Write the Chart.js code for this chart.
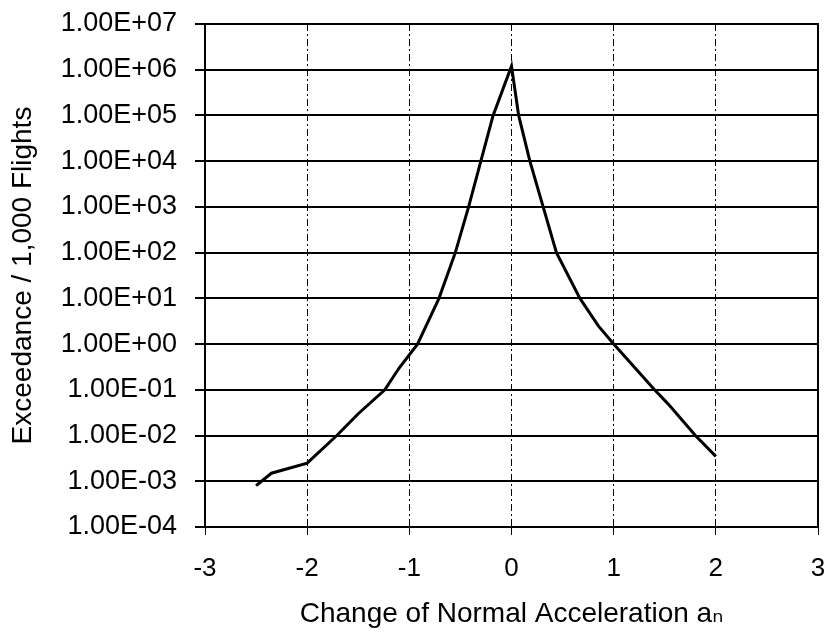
<!DOCTYPE html>
<html>
<head>
<meta charset="utf-8">
<script src="https://cdn.jsdelivr.net/npm/chart.js@4"></script>
<style>
  body { margin: 0; background: #fff; }
  canvas { display: block; }
</style>
</head>
<body>
<canvas id="chart" width="830" height="636"></canvas>
<script>
// change of normal acceleration (x) vs exceedances per 1,000 flights (y)
const accel = [-2.5, -2.35, -2.0, -1.71, -1.5, -1.24, -1.1, -0.92, -0.71, -0.55, -0.42, -0.30, -0.18, 0.0,
  0.07, 0.18, 0.31, 0.44, 0.67, 0.85, 1.0, 1.40, 1.53, 1.80, 2.0];
const exceedance = [8e-4, 1.5e-3, 2.5e-3, 1e-2, 3e-2, 1e-1, 3e-1, 1, 10, 100, 1e3, 1e4, 1e5, 1.2e6,
  1e5, 1e4, 1e3, 100, 10, 2.5, 1, 0.1, 0.05, 0.01, 3.5e-3];

const xTicks = [-3, -2, -1, 0, 1, 2, 3];
const yTicks = [1e-4, 1e-3, 1e-2, 1e-1, 1, 1e1, 1e2, 1e3, 1e4, 1e5, 1e6, 1e7];
const yTickLabels = ['1.00E-04', '1.00E-03', '1.00E-02', '1.00E-01', '1.00E+00', '1.00E+01',
  '1.00E+02', '1.00E+03', '1.00E+04', '1.00E+05', '1.00E+06', '1.00E+07'];

const FONT = '"Liberation Sans", Arial, "DejaVu Sans", sans-serif';

const points = accel.map((x, i) => ({ x, y: exceedance[i] }));

// solid right-hand frame edge of the plot
const rightEdge = {
  id: 'rightEdge',
  afterDraw(chart) {
    const { ctx, chartArea: a } = chart;
    ctx.save();
    ctx.strokeStyle = '#000';
    ctx.lineWidth = 2;
    ctx.beginPath();
    ctx.moveTo(a.right, a.top - 1);
    ctx.lineTo(a.right, a.bottom + 1);
    ctx.stroke();
    ctx.restore();
  },
};

new Chart(document.getElementById('chart'), {
  type: 'line',
  data: {
    datasets: [{
      data: points,
      borderColor: '#000',
      borderWidth: 3,
      pointRadius: 0,
      tension: 0,
      fill: false,
    }],
  },
  options: {
    responsive: false,
    animation: false,
    layout: { padding: { left: 0, right: 12, top: 24, bottom: 2 } },
    plugins: { legend: { display: false }, tooltip: { enabled: false } },
    scales: {
      x: {
        type: 'linear',
        min: -3,
        max: 3,
        afterBuildTicks: (s) => { s.ticks = xTicks.map((v) => ({ value: v })); },
        afterFit: (s) => {
          s.height = 107;
          s.paddingLeft = 0;
          s.paddingRight = 0;
        },
        grid: {
          color: (ctx) => (ctx.tick && (ctx.tick.value === -3 || ctx.tick.value === 3) ? 'rgba(0,0,0,0)' : '#000'),
          lineWidth: 1,
          tickLength: 8,
          tickColor: '#000',
          tickBorderDash: [7, 3, 2, 3],
        },
        border: { display: true, color: '#000', width: 2, dash: [7, 3, 2, 3] },
        ticks: {
          color: '#000',
          font: { family: FONT, size: 26 },
          padding: 18,
          maxRotation: 0,
          callback: (v) => String(v),
        },
        title: {
          display: true,
          text: 'Change of Normal Acceleration aₙ',
          color: '#000',
          font: { family: FONT, size: 28 },
          padding: { top: 0, bottom: 3 },
        },
      },
      y: {
        type: 'logarithmic',
        min: 1e-4,
        max: 1e7,
        afterBuildTicks: (s) => { s.ticks = yTicks.map((v) => ({ value: v })); },
        afterFit: (s) => {
          s.width = 205;
          s.paddingTop = 0;
          s.paddingBottom = 0;
        },
        grid: { color: '#000', lineWidth: 2, tickLength: 10 },
        border: { display: true, color: '#000', width: 2 },
        ticks: {
          color: '#000',
          font: { family: FONT, size: 27 },
          padding: 18,
          callback: (v, i) => yTickLabels[i],
        },
        title: {
          display: true,
          text: 'Exceedance / 1,000 Flights',
          color: '#000',
          font: { family: FONT, size: 28 },
          padding: { top: 6, bottom: 0 },
        },
      },
    },
  },
  plugins: [rightEdge],
});
</script>
</body>
</html>
